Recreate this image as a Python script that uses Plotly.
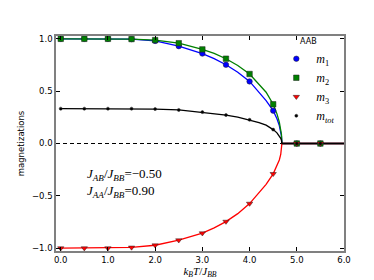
import plotly.graph_objects as go

# ---- data ----
T_pts = [0.0, 0.5, 1.0, 1.5, 2.0, 2.5, 3.0, 3.5, 4.0, 4.5, 5.0, 5.5]
m1_pts = [1.0, 1.0, 1.0, 0.997, 0.980, 0.930, 0.859, 0.752, 0.593, 0.314, 0.0, 0.0]
m2_pts = [1.0, 1.0, 1.0, 0.998, 0.988, 0.958, 0.899, 0.810, 0.664, 0.375, 0.0, 0.0]
m3_pts = [-1.0, -1.0, -1.0, -0.993, -0.972, -0.924, -0.857, -0.746, -0.574, -0.290, 0.0, 0.0]
mtot_pts = [0.333, 0.333, 0.333, 0.333, 0.329, 0.321, 0.300, 0.272, 0.227, 0.133, 0.0, 0.0]

T_line = [0.0, 0.5, 1.0, 1.5, 2.0, 2.5, 3.0, 3.25, 3.5, 3.75, 4.0, 4.2, 4.35, 4.5,
          4.58, 4.63, 4.66, 4.675, 4.685, 6.0]
m1_line = [1.0, 1.0, 1.0, 0.997, 0.980, 0.930, 0.859, 0.810, 0.752, 0.680, 0.593, 0.490, 0.410, 0.314,
           0.237, 0.171, 0.115, 0.073, 0.0, 0.0]
m2_line = [1.0, 1.0, 1.0, 0.998, 0.988, 0.958, 0.899, 0.860, 0.810, 0.745, 0.664, 0.570, 0.490, 0.375,
           0.283, 0.204, 0.138, 0.087, 0.0, 0.0]
m3_line = [-1.0, -1.0, -1.0, -0.993, -0.972, -0.924, -0.857, -0.806, -0.746, -0.670, -0.574, -0.470, -0.390, -0.290,
           -0.215, -0.157, -0.105, -0.066, 0.0, 0.0]
mtot_line = [0.333, 0.333, 0.333, 0.333, 0.329, 0.321, 0.300, 0.288, 0.272, 0.252, 0.227, 0.200, 0.175, 0.133,
             0.102, 0.073, 0.049, 0.031, 0.0, 0.0]

x_ticks = [0, 1, 2, 3, 4, 5, 6]
y_ticks = [-1.0, -0.5, 0.0, 0.5, 1.0]

series = [
    ("<i>m</i><sub>1</sub>", m1_pts, m1_line, "#0000ff", "circle", 5.5),
    ("<i>m</i><sub>2</sub>", m2_pts, m2_line, "#008000", "square", 5.5),
    ("<i>m</i><sub>3</sub>", m3_pts, m3_line, "#ff0000", "triangle-down", 5.5),
    ("<i>m</i><sub><i>tot</i></sub>", mtot_pts, mtot_line, "#000000", "circle", 3),
]

fig = go.Figure()

# dashed zero line
fig.add_shape(type="line", xref="x", yref="y", x0=-0.1, x1=6.0, y0=0, y1=0,
              line=dict(color="black", width=1, dash="4px,3px"), layer="below")

for name, pts, line, color, sym, size in series:
    fig.add_trace(go.Scatter(x=T_line, y=line, mode="lines",
                             line=dict(color=color, width=1.3), showlegend=False,
                             hoverinfo="skip"))
for name, pts, line, color, sym, size in series:
    fig.add_trace(go.Scatter(x=T_pts, y=pts, mode="markers", name=name,
                             marker=dict(symbol=sym, size=size, color=color,
                                         line=dict(color="#222222", width=0.5))))

fig.add_annotation(xref="paper", yref="paper", x=0.1, y=0.315, xanchor="left", yanchor="middle",
                   text="<i>J</i><sub><i>AB</i></sub>/<i>J</i><sub><i>BB</i></sub>=\u22120.50<br>"
                        "<i>J</i><sub><i>AA</i></sub>/<i>J</i><sub><i>BB</i></sub>=0.90",
                   showarrow=False, align="left",
                   font=dict(family="Liberation Serif", size=13, color="black"))

axis_common = dict(showline=True, mirror="ticks", linecolor="#808080", linewidth=1.5,
                   ticks="inside", ticklen=4, tickcolor="black", tickwidth=0.8,
                   showgrid=False, zeroline=False,
                   tickfont=dict(family="DejaVu Sans", size=8.5, color="black"))

fig.update_layout(
    width=374, height=280,
    margin=dict(l=47, r=38, t=28, b=29),
    paper_bgcolor="white", plot_bgcolor="white",
    xaxis=dict(range=[-0.1, 6.0], tickvals=x_ticks, tickformat=".1f",
               title=dict(text="<i>k</i><sub><i>B</i></sub><i>T</i>/<i>J</i><sub><i>BB</i></sub>",
                          font=dict(family="Liberation Serif", size=11, color="black"), standoff=3),
               **axis_common),
    yaxis=dict(range=[-1.027, 1.027], tickvals=y_ticks, tickformat=".1f",
               title=dict(text="magnetizations",
                          font=dict(family="DejaVu Sans", size=8.5, color="black"), standoff=6),
               **axis_common),
    legend=dict(x=0.765, y=1.01, xanchor="left", yanchor="top",
                bgcolor="rgba(0,0,0,0)", borderwidth=0,
                title=dict(text="AAB", side="top center",
                           font=dict(family="DejaVu Sans", size=8, color="black")),
                font=dict(family="Liberation Serif", size=12, color="black")),
    showlegend=True,
)

fig.write_html("out.html")
